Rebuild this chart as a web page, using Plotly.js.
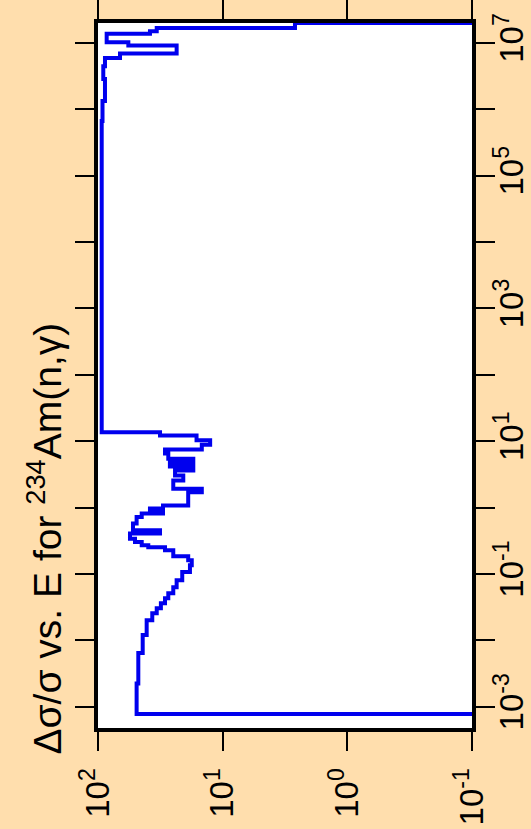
<!DOCTYPE html>
<html>
<head>
<meta charset="utf-8">
<script src="https://cdn.plot.ly/plotly-3.0.1.min.js"></script>
<style>
  html, body { margin: 0; padding: 0; background: #FFDEAD; }
  #chart { width: 531px; height: 829px; }
</style>
</head>
<body>
<div id="chart"></div>
<script>
// Group lower energy bounds (eV), in increasing order
const energyLow = [
  7.76e-4, 2.25e-3, 6.43e-3, 1.20e-2, 2.01e-2, 2.56e-2, 3.05e-2, 3.62e-2, 4.31e-2, 5.13e-2,
  6.31e-2, 8.04e-2, 0.107, 0.135, 0.161, 0.185, 0.227, 0.252, 0.270, 0.303,
  0.340, 0.409, 0.454, 0.578, 0.719, 0.818, 0.908, 0.973, 1.08, 1.71,
  1.92, 2.56, 3.05, 3.62, 4.17, 4.78, 5.43, 6.53, 7.50, 8.83,
  10.3, 12.2, 13.6, 6.65e5, 1.33e6, 2.85e6, 4.46e6, 5.95e6, 6.93e6, 9.14e6,
  1.02e7, 1.38e7, 1.50e7, 1.68e7
];
// Upper bound of the last group (eV)
const energyTop = 2.0e7;
// Relative uncertainty Δσ/σ (%) for each group
const relUnc = [
  49.0, 47.5, 43.8, 40.7, 36.7, 33.8, 31.3, 29.0, 27.3, 24.9,
  23.4, 21.1, 18.3, 17.7, 18.9, 24.9, 29.0, 39.5, 44.6, 50.5,
  55.4, 31.8, 52.4, 49.0, 44.6, 30.1, 38.3, 30.1, 18.9, 14.7,
  24.9, 20.7, 24.1, 17.2, 26.5, 17.2, 27.3, 29.0, 14.7, 12.6,
  16.2, 31.8, 93.4, 92.0, 87.9, 90.7, 87.9, 66.6, 23.4, 57.1,
  85.2, 38.3, 33.8, 2.63
];
// Value the step outline starts from and returns to (off the axis)
const floorValue = 0.01;

// Axis ticks and labels
const xTickVals = [100, 10, 1, 0.1];
const xTickText = ['10<sup>2</sup>', '10<sup>1</sup>', '10<sup>0</sup>', '10<sup>-1</sup>'];
const yTickVals = [1e-3, 1e-1, 10, 1e3, 1e5, 1e7];
const yTickText = ['10<sup>-3</sup>', '10<sup>-1</sup>', '10<sup>1</sup>',
                   '10<sup>3</sup>', '10<sup>5</sup>', '10<sup>7</sup>'];
const yMinorVals = [1e-2, 1, 100, 1e4, 1e6];
const titleText = 'Δσ/σ vs. E for <sup>234</sup>Am(n,γ)';

const xs = [floorValue].concat(relUnc, [floorValue]);
const ys = [energyLow[0]].concat(energyLow, [energyTop]);

const family = 'Liberation Sans, Arial, sans-serif';
const tickFont = { family: family, size: 33, color: 'black' };
const titleFont = { family: family, size: 39, color: 'black' };

const axisCommon = {
  type: 'log',
  showgrid: false,
  zeroline: false,
  showline: true,
  linewidth: 4,
  linecolor: 'black',
  mirror: 'ticks',
  ticks: 'outside',
  ticklen: 19,
  tickwidth: 2,
  tickcolor: 'black',
  tickangle: -90,
  tickfont: tickFont,
  tickmode: 'array'
};

const data = [{
  type: 'scatter',
  mode: 'lines',
  x: xs,
  y: ys,
  line: { shape: 'vh', color: '#0000EE', width: 4 },
  hoverinfo: 'skip'
}];

const layout = {
  width: 531,
  height: 829,
  paper_bgcolor: '#FFDEAD',
  plot_bgcolor: 'white',
  showlegend: false,
  margin: { l: 98, r: 59, t: 23, b: 101, pad: 0 },
  xaxis: Object.assign({}, axisCommon, {
    range: [2, -1],
    tickvals: xTickVals,
    ticktext: xTickText,
    ticklabelstandoff: 4
  }),
  yaxis: Object.assign({}, axisCommon, {
    side: 'right',
    range: [-3.32, 7.30],
    tickvals: yTickVals,
    ticktext: yTickText,
    ticklabelstandoff: -12,
    minor: {
      tickmode: 'array',
      tickvals: yMinorVals,
      ticks: 'outside',
      ticklen: 19,
      tickwidth: 2,
      tickcolor: 'black',
      showgrid: false
    }
  }),
  annotations: [{
    text: titleText,
    textangle: -90,
    xref: 'paper', yref: 'paper',
    x: -0.144, y: 0.269,
    xanchor: 'center', yanchor: 'middle',
    showarrow: false,
    font: titleFont
  }]
};

Plotly.newPlot('chart', data, layout, { displayModeBar: false, staticPlot: true });
</script>
</body>
</html>
